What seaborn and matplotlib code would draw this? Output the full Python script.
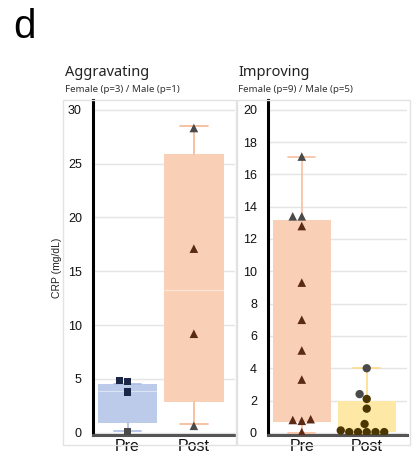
import matplotlib
matplotlib.use("Agg")
import matplotlib.pyplot as plt
from matplotlib.patches import Rectangle
import seaborn as sns
import pandas as pd

sns.set_style("white")
plt.rcParams['font.family'] = ['Noto Sans', 'DejaVu Sans']

# ---------------- data ----------------
categories = ["Pre", "Post"]

# Aggravating panel
agg_pre_vals = [4.85, 4.75, 3.8, 0.1]
agg_pre_sex = ["F", "F", "F", "M"]
agg_post_vals = [28.3, 17.1, 9.2, 0.65]
agg_post_sex = ["M", "F", "F", "M"]
# box stats: q1, median, q3, whisker low, whisker high
agg_pre_box = [0.93, 3.9, 4.55, 0.15, 4.55]
agg_post_box = [2.9, 13.3, 25.9, 0.8, 28.5]

# Improving panel
imp_pre_vals = [17.1, 13.4, 13.4, 12.8, 9.3, 7.0, 5.1, 3.3, 0.8, 0.75, 0.85, 0.05]
imp_pre_sex = ["M", "M", "M", "F", "F", "F", "F", "F", "F", "F", "F", "F"]
imp_post_vals = [4.0, 2.4, 2.1, 1.5, 0.55, 0.15, 0.05, 0.05, 0.05, 0.05, 0.05]
imp_post_sex = ["M", "M", "F", "F", "F", "F", "F", "F", "F", "F", "F"]
imp_pre_box = [0.7, 5.1, 13.2, 0.0, 17.1]
imp_post_box = [0.05, 0.55, 1.95, 0.0, 4.0]

agg_ticks = [0, 5, 10, 15, 20, 25, 30]
imp_ticks = [0, 2, 4, 6, 8, 10, 12, 14, 16, 18, 20]

# ---------------- figure ----------------
W, H = 417, 458
fig = plt.figure(figsize=(W / 100, H / 100), dpi=100)


def fx(px):
    return px / W


def fy(py):
    return 1 - py / H


grey = "#4a4a4a"
arial = ["Liberation Sans", "DejaVu Sans"]


def draw_box(ax, pos, stats, face, line, med_alpha):
    q1, med, q3, lo, hi = stats
    ax.bxp([dict(q1=q1, med=med, q3=q3, whislo=lo, whishi=hi, fliers=[])],
           positions=[pos], widths=0.9, patch_artist=True, showfliers=False,
           capwidths=0.42,
           boxprops=dict(facecolor=face, edgecolor=face, linewidth=0),
           medianprops=dict(color="white", linewidth=0.8, alpha=med_alpha),
           whiskerprops=dict(color=line, linewidth=1.2),
           capprops=dict(color=line, linewidth=1.2),
           zorder=2)


def draw_pts(ax, cat, vals, sex, marker, dark, size):
    df = pd.DataFrame({"x": [cat] * len(vals), "y": vals, "sex": sex})
    sns.swarmplot(data=df, x="x", y="y", hue="sex", order=categories,
                  hue_order=["F", "M"], palette={"F": dark, "M": grey},
                  marker=marker, size=size, linewidth=0, legend=False,
                  ax=ax, zorder=4, warn_thresh=1)


def style_axis(ax, ticks, ylim):
    ax.set_ylim(*ylim)
    ax.set_xlim(-0.52, 1.62)
    ax.set_yticks(ticks)
    ax.set_yticklabels([str(t) for t in ticks], fontsize=9, color="#111111",
                       family=arial)
    ax.set_xticks([0, 1])
    ax.set_xticklabels(categories, fontsize=11.5, color="#111111", family=arial)
    ax.tick_params(axis="y", length=3, width=2, color="black", pad=5, direction="out")
    ax.tick_params(axis="x", length=2, width=1, color="#555555", pad=1)
    ax.set_xlabel("")
    ax.set_ylabel("")
    ax.grid(axis="y", color="#e4e4e4", linewidth=1)
    ax.set_axisbelow(True)
    for s in ["top", "right"]:
        ax.spines[s].set_visible(False)
    ax.spines["left"].set_linewidth(2.2)
    ax.spines["left"].set_color("black")
    ax.spines["bottom"].set_linewidth(2.2)
    ax.spines["bottom"].set_color("#555555")


# panel frames
fig.add_artist(Rectangle((fx(63), fy(445)), fx(236) - fx(63), fy(100) - fy(445),
                         transform=fig.transFigure, fill=False, ec="#e2e2e2", lw=1))
fig.add_artist(Rectangle((fx(237), fy(445)), fx(410) - fx(237), fy(100) - fy(445),
                         transform=fig.transFigure, fill=False, ec="#e2e2e2", lw=1))

# left panel
axL = fig.add_axes([fx(93), fy(435), fx(235) - fx(93), fy(100) - fy(435)])
draw_box(axL, 0, agg_pre_box, "#bccbea", "#a9bde4", 0.5)
draw_box(axL, 1, agg_post_box, "#f9cfb6", "#f6b894", 0.5)
draw_pts(axL, "Pre", agg_pre_vals, agg_pre_sex, "s", "#1b2744", 5.5)
draw_pts(axL, "Post", agg_post_vals, agg_post_sex, "^", "#5a2a15", 6.2)
style_axis(axL, agg_ticks, (-0.2, 30.9))
axL.set_ylabel("CRP (mg/dL)", fontsize=7.5, color="#222222", labelpad=4,
               family=arial)

# right panel
axR = fig.add_axes([fx(268), fy(435), fx(407) - fx(268), fy(100) - fy(435)])
draw_box(axR, 0, imp_pre_box, "#f9cfb6", "#f6c0a0", 0.0)
draw_box(axR, 1, imp_post_box, "#fde8a6", "#fddc8a", 0.0)
draw_pts(axR, "Pre", imp_pre_vals, imp_pre_sex, "^", "#5a2a15", 6.2)
draw_pts(axR, "Post", imp_post_vals, imp_post_sex, "o", "#4a3600", 6.0)
style_axis(axR, imp_ticks, (-0.13, 20.6))

# titles
fig.text(fx(65), fy(72), "Aggravating", fontsize=10.5, color="#222222", va="center")
fig.text(fx(65), fy(90), "Female (p=3) / Male (p=1)", fontsize=7, color="#333333", va="center")
fig.text(fx(238), fy(72), "Improving", fontsize=10.5, color="#222222", va="center")
fig.text(fx(238), fy(90), "Female (p=9) / Male (p=5)", fontsize=7, color="#333333", va="center")
fig.text(fx(13), fy(27), "d", fontsize=29, color="black", va="center", family=arial)

fig.savefig("out.png", dpi=100)
